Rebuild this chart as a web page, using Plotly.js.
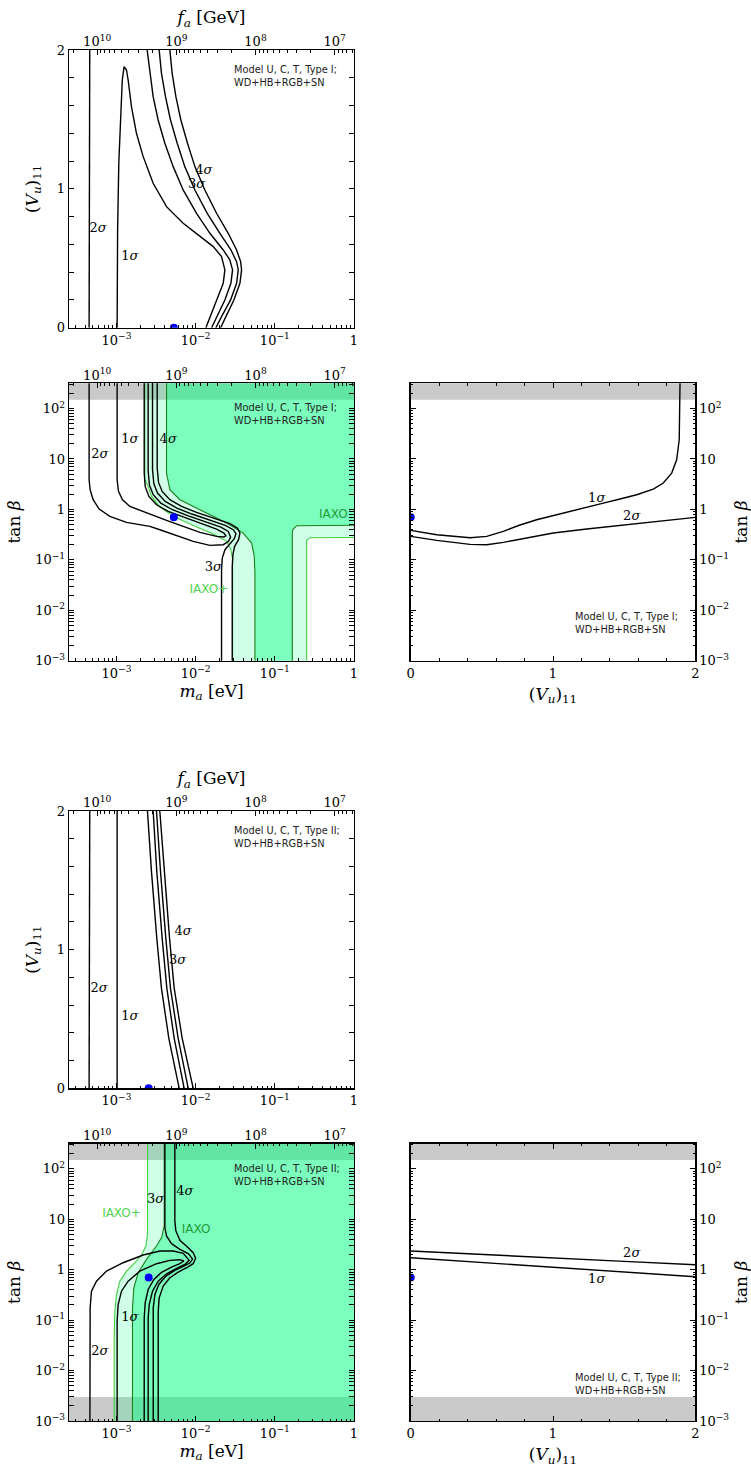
<!DOCTYPE html>
<html><head><meta charset="utf-8">
<script src="https://cdn.plot.ly/plotly-3.0.1.min.js"></script>
</head><body style="margin:0;background:#fff">
<div id="chart" style="width:751px;height:1474px"></div>
<script>
// ---------------- DATA (log10 of m_a [eV], log10 of tan beta, (V_u)_11 linear) ----------------
const FA_CONST = 5.7e6;            // f_a [GeV] * m_a [eV]
const GRAY_TOP = 150, GRAY_BOT = 0.003;
const dotMa1 = 5.3e-3, dotMa2 = 2.55e-3, dotTb = 0.7, dotV = 0;

// Panel A : Type I, (V_u)11 vs m_a
const A2sL_lgm = [-3.346, -3.338], A2sL_V = [0, 2];
const A1s_lgm = [-2.992, -2.986, -2.971, -2.946, -2.927, -2.904, -2.874, -2.853, -2.811, -2.748, -2.663, -2.537, -2.368, -2.158, -1.947, -1.778, -1.673, -1.631, -1.652, -1.736, -1.871];
const A1s_V   = [0, 0.704, 1.186, 1.568, 1.784, 1.880, 1.856, 1.784, 1.592, 1.400, 1.232, 1.040, 0.872, 0.752, 0.656, 0.584, 0.512, 0.416, 0.320, 0.200, 0];
const A2s_lgm = [-2.613, -2.579, -2.537, -2.474, -2.389, -2.284, -2.158, -1.989, -1.820, -1.652, -1.568, -1.534, -1.555, -1.631, -1.736, -1.799];
const A2s_V   = [2.0, 1.832, 1.664, 1.496, 1.328, 1.160, 0.992, 0.824, 0.680, 0.560, 0.488, 0.416, 0.320, 0.200, 0.080, 0];
const A3s_lgm = [-2.461, -2.432, -2.381, -2.318, -2.233, -2.137, -2.010, -1.854, -1.694, -1.555, -1.483, -1.462, -1.483, -1.559, -1.673, -1.745];
const A4s_lgm = [-2.326, -2.297, -2.250, -2.187, -2.103, -2.010, -1.884, -1.736, -1.589, -1.483, -1.432, -1.420, -1.441, -1.517, -1.618, -1.685];
const A34_V   = [2.0, 1.832, 1.664, 1.496, 1.328, 1.160, 0.992, 0.824, 0.680, 0.560, 0.476, 0.416, 0.320, 0.200, 0.080, 0];
const A_lab = {t: ['2<i>σ</i>', '1<i>σ</i>', '4<i>σ</i>', '3<i>σ</i>'], lgm: [-3.232, -2.832, -1.896, -1.989], V: [0.716, 0.511, 1.131, 1.028]};

// Panel B : Type I, tan beta vs m_a
const B2s_lgm = [-3.346, -3.346, -3.333, -3.295, -3.219, -3.084, -2.874, -2.579, -2.452, -2.241, -2.031, -1.820, -1.651, -1.584, -1.559, -1.588, -1.681, -1.892, -2.102, -2.292, -2.440, -2.536, -2.583, -2.600, -2.600];
const B2s_lgt = [3, 0.588, 0.390, 0.192, 0.007, -0.139, -0.258, -0.337, -0.403, -0.522, -0.634, -0.713, -0.700, -0.634, -0.548, -0.436, -0.350, -0.238, -0.125, -0.007, 0.125, 0.291, 0.476, 0.753, 3];
const B1s_lgm = [-2.992, -2.992, -2.975, -2.924, -2.831, -2.705, -2.579, -2.368, -2.157, -1.946, -1.736, -1.643, -1.618, -1.643, -1.736, -1.946, -2.157, -2.347, -2.494, -2.591, -2.638, -2.650, -2.650];
const B1s_lgt = [3, 0.588, 0.357, 0.192, 0.059, -0.020, -0.092, -0.218, -0.337, -0.456, -0.535, -0.548, -0.522, -0.469, -0.390, -0.271, -0.159, -0.040, 0.092, 0.258, 0.456, 0.720, 3];
const B3s_lgm = [-2.545, -2.545, -2.528, -2.482, -2.385, -2.237, -2.048, -1.837, -1.626, -1.525, -1.491, -1.512, -1.567, -1.630, -1.664, -1.673, -1.673];
const B3s_lgt = [3, 0.786, 0.509, 0.324, 0.159, 0.026, -0.092, -0.205, -0.317, -0.403, -0.482, -0.581, -0.680, -0.799, -0.964, -1.196, -4];
const B4s_lgm = [-2.486, -2.486, -2.469, -2.423, -2.326, -2.178, -1.989, -1.778, -1.567, -1.474, -1.441, -1.458, -1.508, -1.529, -1.538, -1.538];
const B4s_lgt = [3, 0.819, 0.535, 0.357, 0.192, 0.059, -0.059, -0.172, -0.284, -0.370, -0.469, -0.601, -0.733, -0.898, -1.129, -4];
const BIaxo_lgm = [-2.368, -2.368, -2.326, -2.199, -1.946, -1.609, -1.399, -1.293, -1.260, -1.251, -1.251, -0.779, -0.779, -0.767, -0.724, 1, 1];
const BIaxo_lgt = [3, 0.720, 0.390, 0.192, -0.007, -0.271, -0.469, -0.667, -0.931, -1.262, -4, -4, -0.436, -0.390, -0.324, -0.304, 3];
const BPlus_lgm = [-2.642, -2.642, -2.600, -2.558, -2.452, -2.276, -2.031, -1.778, -1.609, -1.555, -1.534, -1.534, -0.598, -0.598, -0.556, 1, 1];
const BPlus_lgt = [3, 0.588, 0.456, 0.258, 0.046, -0.139, -0.317, -0.489, -0.634, -0.799, -0.997, -4, -4, -0.614, -0.561, -0.548, 3];
const B_lab = {t: ['3<i>σ</i>', '4<i>σ</i>', '1<i>σ</i>', '2<i>σ</i>'], lgm: [-1.778, -2.347, -2.831, -3.211], lgt: [-1.149, 1.380, 1.380, 1.083]};
const B_iaxo = {t: ['IAXO', 'IAXO+'], lgm: [-0.261, -1.833], lgt: [-0.119, -1.592]};

// Panel C : Type I, tan beta vs (V_u)11
const C1s_V   = [0, 0.183, 0.417, 0.534, 0.651, 0.768, 0.885, 1.002, 1.119, 1.237, 1.354, 1.471, 1.588, 1.705, 1.775, 1.834, 1.869, 1.887, 1.892, 1.895];
const C1s_lgt = [-0.416, -0.502, -0.561, -0.535, -0.436, -0.310, -0.205, -0.119, -0.033, 0.046, 0.125, 0.205, 0.291, 0.403, 0.522, 0.720, 0.984, 1.380, 2.041, 3];
const C2s_V   = [0, 0.183, 0.417, 0.534, 0.651, 0.768, 0.885, 1.002, 1.237, 1.471, 1.705, 2.0];
const C2s_lgt = [-0.535, -0.614, -0.694, -0.700, -0.654, -0.588, -0.522, -0.469, -0.390, -0.317, -0.251, -0.159];
const C_lab = {t: ['1<i>σ</i>', '2<i>σ</i>'], V: [1.307, 1.553], lgt: [0.205, -0.139]};

// Panel D : Type II, (V_u)11 vs m_a
const D2sL_lgm = [-3.346, -3.338], D1sL_lgm = [-2.992, -2.992], DL_V = [0, 2];
const Dc_V   = [2.0, 1.5625, 1.0816, 0.7211, 0.3604, 0];
const Dc1_lgm = [-2.609, -2.558, -2.491, -2.432, -2.339, -2.208];
const Dc2_lgm = [-2.537, -2.491, -2.423, -2.364, -2.271, -2.145];
const Dc3_lgm = [-2.495, -2.444, -2.377, -2.318, -2.221, -2.094];
const Dc4_lgm = [-2.453, -2.398, -2.330, -2.271, -2.170, -2.031];
const D_lab = {t: ['4<i>σ</i>', '3<i>σ</i>', '2<i>σ</i>', '1<i>σ</i>'], lgm: [-2.158, -2.229, -3.22, -2.832], V: [1.129, 0.920, 0.721, 0.516]};

// Panel E : Type II, tan beta vs m_a
const E2s_lgm = [-3.337, -3.337, -3.333, -3.316, -3.253, -3.126, -2.916, -2.663, -2.452, -2.284, -2.157, -2.081, -2.136, -2.241, -2.368, -2.473, -2.545, -2.587, -2.600, -2.600];
const E2s_lgt = [-4, -1.952, -0.757, -0.425, -0.226, -0.027, 0.139, 0.292, 0.372, 0.372, 0.325, 0.186, 0.106, 0.027, -0.080, -0.226, -0.425, -0.691, -0.956, -4];
const E1s_lgm = [-2.992, -2.992, -2.979, -2.937, -2.853, -2.705, -2.494, -2.326, -2.199, -2.149, -2.199, -2.305, -2.431, -2.528, -2.600, -2.638, -2.650, -2.650];
const E1s_lgt = [-4, -1.023, -0.691, -0.425, -0.226, -0.027, 0.120, 0.186, 0.199, 0.173, 0.120, 0.053, -0.053, -0.193, -0.392, -0.657, -0.956, -4];
const E3s_lgm = [-2.389, -2.389, -2.368, -2.305, -2.199, -2.094, -2.039, -2.073, -2.157, -2.263, -2.376, -2.465, -2.515, -2.536, -2.536, -2.536];
const E3s_lgt = [3, 0.837, 0.671, 0.518, 0.405, 0.319, 0.212, 0.133, 0.066, -0.013, -0.126, -0.292, -0.491, -0.757, -1.023, -4];
const E4s_lgm = [-2.263, -2.263, -2.250, -2.199, -2.094, -2.031, -2.001, -2.031, -2.115, -2.220, -2.326, -2.410, -2.461, -2.473, -2.473];
const E4s_lgt = [3, 0.969, 0.770, 0.584, 0.438, 0.339, 0.226, 0.120, 0.040, -0.046, -0.159, -0.325, -0.558, -0.823, -4];
const EIaxo_lgm = [-2.397, -2.397, -2.431, -2.494, -2.621, -2.726, -2.781, -2.798, -2.798, 1, 1];
const EIaxo_lgt = [3, 0.870, 0.637, 0.471, 0.206, -0.060, -0.359, -0.757, -4, -4, 3];
const EPlus_lgm = [-2.608, -2.608, -2.629, -2.684, -2.768, -2.874, -2.958, -3.000, -3.021, -3.029, -3.029, 1, 1];
const EPlus_lgt = [3, 0.704, 0.471, 0.292, 0.139, -0.027, -0.226, -0.491, -0.823, -1.288, -4, -4, 3];
const E_lab = {t: ['3<i>σ</i>', '4<i>σ</i>', '1<i>σ</i>', '2<i>σ</i>'], lgm: [-2.507, -2.136, -2.831, -3.211], lgt: [1.381, 1.554, -0.943, -1.633]};
const E_iaxo = {t: ['IAXO+', 'IAXO'], lgm: [-2.937, -1.995], lgt: [1.102, 0.790]};

// Panel F : Type II, tan beta vs (V_u)11
const F_V = [0, 0.5, 1, 1.5, 2];
const F2s_lgt = [0.372, 0.299, 0.229, 0.166, 0.100];
const F1s_lgt = [0.239, 0.146, 0.045, -0.046, -0.139];
const F_lab = {t: ['2<i>σ</i>', '1<i>σ</i>'], V: [1.553, 1.307], lgt: [0.319, -0.193]};

const typeText = ['Model U, C, T, Type I;<br>WD+HB+RGB+SN', 'Model U, C, T, Type II;<br>WD+HB+RGB+SN'];

// ---------------- helpers ----------------
const P = a => a.map(v => Math.pow(10, v));
const traces = [];
const BLACK = '#000', DKG = '#1b7f1b', LTG = '#3fcf3f';
const SERIF = 'DejaVu Serif, Liberation Serif, serif';
const SANS = 'DejaVu Sans, Liberation Sans, sans-serif';
function line(xa, ya, x, y, color, width) {
  traces.push({type: 'scatter', mode: 'lines', x: x, y: y, xaxis: xa, yaxis: ya,
    line: {color: color || BLACK, width: width || 1.4}, hoverinfo: 'skip', showlegend: false});
}
function poly(xa, ya, x, y, fill, lcolor) {
  traces.push({type: 'scatter', mode: 'lines', x: x, y: y, xaxis: xa, yaxis: ya, fill: 'toself',
    fillcolor: fill, line: {color: lcolor || 'rgba(0,0,0,0)', width: lcolor ? 1.1 : 0},
    hoverinfo: 'skip', showlegend: false});
}
function labels(xa, ya, x, y, t, color, fam, size) {
  traces.push({type: 'scatter', mode: 'text', x: x, y: y, text: t, xaxis: xa, yaxis: ya,
    textfont: {family: fam || SERIF, size: size || 13, color: color || BLACK},
    textposition: 'middle center', hoverinfo: 'skip', showlegend: false, cliponaxis: false});
}
function dot(xa, ya, x, y) {
  traces.push({type: 'scatter', mode: 'markers', x: [x], y: [y], xaxis: xa, yaxis: ya,
    marker: {color: '#0000ff', size: 8}, hoverinfo: 'skip', showlegend: false});
}
function grayBand(xa, ya, xlo, xhi, ylo, yhi) {
  poly(xa, ya, [xlo, xhi, xhi, xlo], [ylo, ylo, yhi, yhi], '#c9c9c9');
}
const IAXO_PLUS_FILL = 'rgba(0,255,127,0.19)', IAXO_FILL = 'rgba(0,255,127,0.40)';

// ---------- Panel A ----------
line('x', 'y', P(A2sL_lgm), A2sL_V);
line('x', 'y', P(A1s_lgm), A1s_V);
line('x', 'y', P(A2s_lgm), A2s_V);
line('x', 'y', P(A3s_lgm), A34_V);
line('x', 'y', P(A4s_lgm), A34_V);
labels('x', 'y', P(A_lab.lgm), A_lab.V, A_lab.t);
dot('x', 'y', dotMa1, dotV);

// ---------- Panel B ----------
grayBand('x2', 'y2', 1e-5, 10, GRAY_TOP, 1e4);
poly('x2', 'y2', P(BPlus_lgm), P(BPlus_lgt), IAXO_PLUS_FILL, LTG);
poly('x2', 'y2', P(BIaxo_lgm), P(BIaxo_lgt), IAXO_FILL, DKG);
line('x2', 'y2', P(B2s_lgm), P(B2s_lgt));
line('x2', 'y2', P(B1s_lgm), P(B1s_lgt));
line('x2', 'y2', P(B3s_lgm), P(B3s_lgt));
line('x2', 'y2', P(B4s_lgm), P(B4s_lgt));
labels('x2', 'y2', P(B_lab.lgm), P(B_lab.lgt), B_lab.t);
labels('x2', 'y2', [P(B_iaxo.lgm)[0]], [P(B_iaxo.lgt)[0]], [B_iaxo.t[0]], '#1f9a3a', SANS, 12);
labels('x2', 'y2', [P(B_iaxo.lgm)[1]], [P(B_iaxo.lgt)[1]], [B_iaxo.t[1]], '#4fd24f', SANS, 12);
dot('x2', 'y2', dotMa1, dotTb);

// ---------- Panel C ----------
grayBand('x3', 'y3', -1, 3, GRAY_TOP, 1e4);
line('x3', 'y3', C1s_V, P(C1s_lgt));
line('x3', 'y3', C2s_V, P(C2s_lgt));
labels('x3', 'y3', C_lab.V, P(C_lab.lgt), C_lab.t);
dot('x3', 'y3', dotV, dotTb);

// ---------- Panel D ----------
line('x4', 'y4', P(D2sL_lgm), DL_V);
line('x4', 'y4', P(D1sL_lgm), DL_V);
line('x4', 'y4', P(Dc1_lgm), Dc_V);
line('x4', 'y4', P(Dc2_lgm), Dc_V);
line('x4', 'y4', P(Dc3_lgm), Dc_V);
line('x4', 'y4', P(Dc4_lgm), Dc_V);
labels('x4', 'y4', P(D_lab.lgm), D_lab.V, D_lab.t);
dot('x4', 'y4', dotMa2, dotV);

// ---------- Panel E ----------
grayBand('x5', 'y5', 1e-5, 10, GRAY_TOP, 1e4);
grayBand('x5', 'y5', 1e-5, 10, 1e-5, GRAY_BOT);
poly('x5', 'y5', P(EPlus_lgm), P(EPlus_lgt), IAXO_PLUS_FILL, LTG);
poly('x5', 'y5', P(EIaxo_lgm), P(EIaxo_lgt), IAXO_FILL, DKG);
line('x5', 'y5', P(E2s_lgm), P(E2s_lgt));
line('x5', 'y5', P(E1s_lgm), P(E1s_lgt));
line('x5', 'y5', P(E3s_lgm), P(E3s_lgt));
line('x5', 'y5', P(E4s_lgm), P(E4s_lgt));
labels('x5', 'y5', P(E_lab.lgm), P(E_lab.lgt), E_lab.t);
labels('x5', 'y5', [P(E_iaxo.lgm)[0]], [P(E_iaxo.lgt)[0]], [E_iaxo.t[0]], '#4fd24f', SANS, 12);
labels('x5', 'y5', [P(E_iaxo.lgm)[1]], [P(E_iaxo.lgt)[1]], [E_iaxo.t[1]], '#1f9a3a', SANS, 12);
dot('x5', 'y5', dotMa2, dotTb);

// ---------- Panel F ----------
grayBand('x6', 'y6', -1, 3, GRAY_TOP, 1e4);
grayBand('x6', 'y6', -1, 3, 1e-5, GRAY_BOT);
line('x6', 'y6', F_V, P(F2s_lgt));
line('x6', 'y6', F_V, P(F1s_lgt));
labels('x6', 'y6', F_lab.V, P(F_lab.lgt), F_lab.t);
dot('x6', 'y6', dotV, dotTb);

// invisible anchors for the top f_a axes
[['x7', 'y'], ['x8', 'y2'], ['x9', 'y4'], ['x10', 'y5']].forEach(p => {
  traces.push({type: 'scatter', mode: 'markers', x: [1e7, 1e10], y: [1, 1],
    xaxis: p[0], yaxis: p[1], marker: {opacity: 0, size: 1}, hoverinfo: 'skip', showlegend: false});
});

// ---------------- axes ----------------
const W = 751, H = 1474;
const tickfont = {family: SERIF, size: 13, color: '#000'};
const titlefont = {family: SERIF, size: 17, color: '#000'};
function minorLog(d0, d1) { const v = []; for (let d = d0; d <= d1; d++) for (let k = 2; k <= 9; k++) v.push(k * Math.pow(10, d)); return v; }
function sup(e) { return e === 0 ? '1' : (e === 1 ? '10' : '10<sup>' + (e < 0 ? '−' + (-e) : e) + '</sup>'); }
function base(extra) {
  return Object.assign({showline: true, linecolor: '#000', linewidth: 1.3, ticks: 'inside', ticklen: 5, tickwidth: 1,
    tickcolor: '#000', showgrid: false, zeroline: false, tickfont: tickfont, fixedrange: true}, extra);
}
const xL = [69 / W, 354 / W], xR = [410.7 / W, 695.3 / W];
const yA = [1 - 327.7 / H, 1 - 50 / H], yB = [1 - 660.7 / H, 1 - 383.3 / H];
const yD = [1 - 1088.3 / H, 1 - 811 / H], yE = [1 - 1421 / H, 1 - 1143.7 / H];
const maTicks = [1e-3, 1e-2, 1e-1, 1];
function maAxis(dom, anchor, title) {
  const o = base({type: 'log', range: [-3.6, 0], domain: dom, anchor: anchor, mirror: true,
    tickmode: 'array', tickvals: maTicks, ticktext: [-3, -2, -1, 0].map(sup),
    minor: {tickmode: 'array', tickvals: minorLog(-4, -1), ticks: 'inside', ticklen: 2.5, tickcolor: '#000'}});
  if (title) o.title = {text: title, font: titlefont, standoff: 4};
  return o;
}
function faAxis(over, anchor, title) {
  const c = Math.log10(FA_CONST);
  const o = base({type: 'log', range: [c + 3.6, c], overlaying: over, anchor: anchor, side: 'top', showline: false,
    tickmode: 'array', tickvals: [1e7, 1e8, 1e9, 1e10], ticktext: [7, 8, 9, 10].map(sup),
    minor: {tickmode: 'array', tickvals: minorLog(6, 10), ticks: 'inside', ticklen: 2.5, tickcolor: '#000'}});
  if (title) o.title = {text: title, font: titlefont, standoff: 4};
  return o;
}
function vAxisY(dom, anchor) {
  return base({range: [0, 2], domain: dom, anchor: anchor, mirror: 'allticks', tickvals: [0, 1, 2], tickmode: 'array',
    minor: {dtick: 0.2, ticks: 'inside', ticklen: 2.5, tickcolor: '#000'},
    title: {text: '(<i>V<sub>u</sub></i>)<sub>11</sub>', font: titlefont, standoff: 14}});
}
function vAxisX(dom, anchor) {
  return base({range: [0, 2], domain: dom, anchor: anchor, mirror: 'allticks', tickvals: [0, 1, 2], tickmode: 'array',
    minor: {dtick: 0.2, ticks: 'inside', ticklen: 2.5, tickcolor: '#000'},
    title: {text: '(<i>V<sub>u</sub></i>)<sub>11</sub>', font: titlefont, standoff: 8}});
}
function tbAxis(dom, anchor, side) {
  return base({type: 'log', range: [-3, 2.5], domain: dom, anchor: anchor, mirror: 'allticks', side: side,
    tickmode: 'array', tickvals: [1e-3, 1e-2, 1e-1, 1, 10, 100], ticktext: [-3, -2, -1, 0, 1, 2].map(sup),
    minor: {tickmode: 'array', tickvals: minorLog(-3, 2), ticks: 'inside', ticklen: 2.5, tickcolor: '#000'},
    title: {text: 'tan <i>β</i>', font: titlefont, standoff: side === 'right' ? 8 : 10}});
}

const annots = [];
function note(xr, yr, x, y, txt) {
  annots.push({xref: xr + ' domain', yref: yr + ' domain', x: x, y: y, xanchor: 'left', yanchor: 'top', align: 'left',
    showarrow: false, text: txt, font: {family: SANS, size: 9.8, color: '#222'}});
}
note('x', 'y', 0.572, 0.955, typeText[0]);
note('x2', 'y2', 0.572, 0.94, typeText[0]);
note('x3', 'y3', 0.572, 0.185, typeText[0]);
note('x4', 'y4', 0.572, 0.958, typeText[1]);
note('x5', 'y5', 0.572, 0.938, typeText[1]);
note('x6', 'y6', 0.572, 0.185, typeText[1]);

const layout = {
  width: W, height: H, margin: {l: 0, r: 0, t: 0, b: 0}, paper_bgcolor: '#fff', plot_bgcolor: '#fff', showlegend: false,
  xaxis: maAxis(xL, 'y'), yaxis: vAxisY(yA, 'x'),
  xaxis2: maAxis(xL, 'y2', '<i>m<sub>a</sub></i> [eV]'), yaxis2: tbAxis(yB, 'x2', 'left'),
  xaxis3: vAxisX(xR, 'y3'), yaxis3: tbAxis(yB, 'x3', 'right'),
  xaxis4: maAxis(xL, 'y4'), yaxis4: vAxisY(yD, 'x4'),
  xaxis5: maAxis(xL, 'y5', '<i>m<sub>a</sub></i> [eV]'), yaxis5: tbAxis(yE, 'x5', 'left'),
  xaxis6: vAxisX(xR, 'y6'), yaxis6: tbAxis(yE, 'x6', 'right'),
  xaxis7: faAxis('x', 'y', '<i>f<sub>a</sub></i> [GeV]'),
  xaxis8: faAxis('x2', 'y2'),
  xaxis9: faAxis('x4', 'y4', '<i>f<sub>a</sub></i> [GeV]'),
  xaxis10: faAxis('x5', 'y5'),
  annotations: annots
};
Plotly.newPlot('chart', traces, layout, {staticPlot: true, displayModeBar: false});
</script>
</body></html>
